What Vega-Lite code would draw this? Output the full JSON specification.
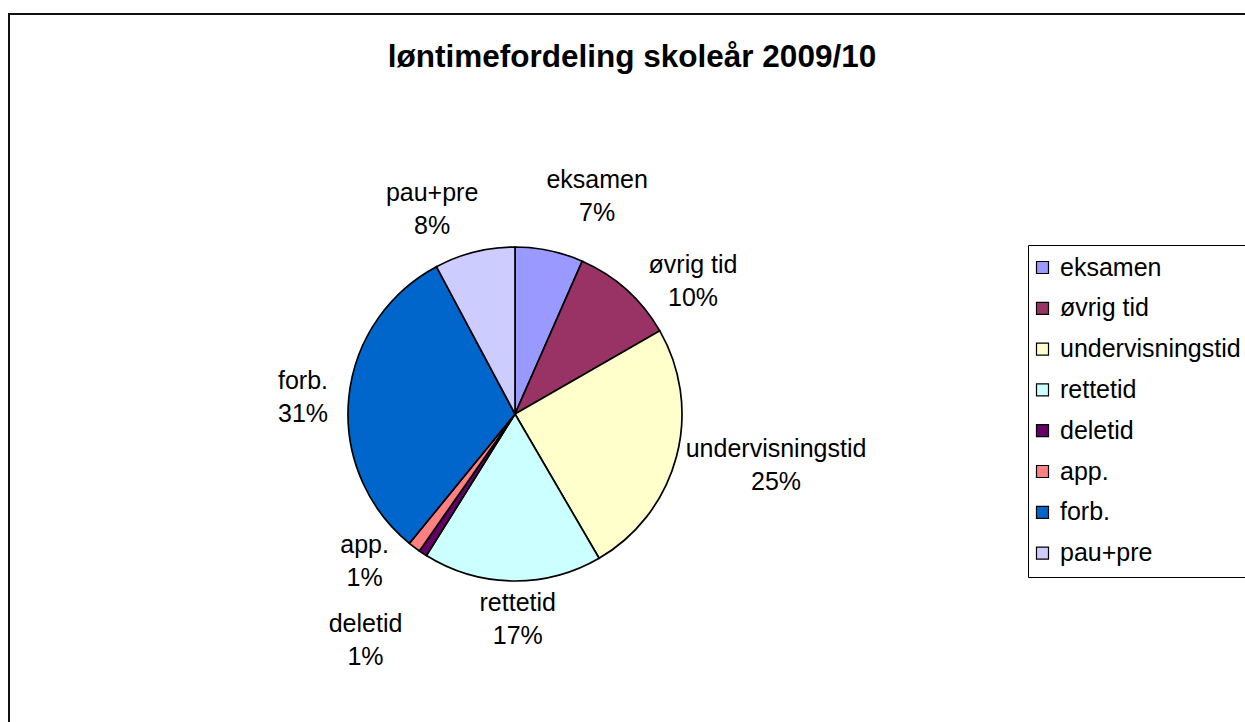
{
  "$schema": "https://vega.github.io/schema/vega-lite/v6.json",
  "autosize": {"type": "none"},
  "padding": {"left": 9, "top": 14, "right": -10, "bottom": -10},
  "width": 1246,
  "height": 718,
  "background": "white",
  "config": {"font": "Liberation Sans", "view": {"stroke": null}},
  "title": {"text": "løntimefordeling skoleår 2009/10", "fontSize": 31.5, "fontWeight": "bold", "color": "black", "anchor": "middle", "frame": "group", "baseline": "alphabetic", "offset": -85},
  "data": {"values": [
    {"k": 1, "cat": "eksamen", "value": 6.6, "label": ["eksamen", "7%"]},
    {"k": 2, "cat": "øvrig tid", "value": 10.1, "label": ["øvrig tid", "10%"]},
    {"k": 3, "cat": "undervisningstid", "value": 24.9, "label": ["undervisningstid", "25%"]},
    {"k": 4, "cat": "rettetid", "value": 17.3, "label": ["rettetid", "17%"]},
    {"k": 5, "cat": "deletid", "value": 0.8, "label": ["deletid", "1%"]},
    {"k": 6, "cat": "app.", "value": 1.2, "label": ["app.", "1%"]},
    {"k": 7, "cat": "forb.", "value": 31.3, "label": ["forb.", "31%"]},
    {"k": 8, "cat": "pau+pre", "value": 7.8, "label": ["pau+pre", "8%"]}
  ]},
  "layer": [
    {
      "data": {"values": [{"frame": "chart"}]},
      "mark": {"type": "rect", "fill": null, "stroke": "#111", "strokeWidth": 2},
      "encoding": {}
    },
    {
      "encoding": {
        "theta": {"field": "value", "type": "quantitative", "stack": true},
        "order": {"field": "k", "type": "quantitative"},
        "detail": {"field": "cat", "type": "nominal"}
      },
      "layer": [
        {
          "mark": {"type": "arc", "radius": 167, "x": 506, "y": 400, "stroke": "black", "strokeWidth": 1.7},
          "encoding": {
            "color": {
              "field": "cat", "type": "nominal",
              "scale": {
                "domain": ["eksamen", "øvrig tid", "undervisningstid", "rettetid", "deletid", "app.", "forb.", "pau+pre"],
                "range": ["#9999FF", "#993366", "#FFFFCC", "#CCFFFF", "#660066", "#FF8080", "#0066CC", "#CCCCFF"]
              },
              "legend": {
                "title": null, "orient": "none", "legendX": 1019, "legendY": 231,
                "labelFontSize": 25, "labelColor": "black", "labelFont": "Liberation Sans", "labelLimit": 400,
                "symbolType": "square", "symbolSize": 144, "symbolStrokeColor": "black", "symbolStrokeWidth": 1.2,
                "symbolOffset": -8, "labelOffset": 5, "rowPadding": 14.8, "padding": 10,
                "strokeColor": "black", "fillColor": "white"
              }
            }
          }
        },
        {
          "mark": {"type": "text", "x": 506, "y": 400, "radius": 229, "dx": 35, "dy": -9.5, "fontSize": 25, "baseline": "middle", "align": "center", "lineHeight": 33, "color": "black"},
          "encoding": {"text": {"field": "label", "type": "nominal", "condition": {"test": "datum.cat !== 'eksamen'", "value": ""}}}
        },
        {
          "mark": {"type": "text", "x": 506, "y": 400, "radius": 217, "dx": 33, "dy": 12.5, "fontSize": 25, "baseline": "middle", "align": "center", "lineHeight": 33, "color": "black"},
          "encoding": {"text": {"field": "label", "type": "nominal", "condition": {"test": "datum.cat !== 'øvrig tid'", "value": ""}}}
        },
        {
          "mark": {"type": "text", "x": 506, "y": 400, "radius": 265, "dx": 5, "dy": -33.5, "fontSize": 25, "baseline": "middle", "align": "center", "lineHeight": 33, "color": "black"},
          "encoding": {"text": {"field": "label", "type": "nominal", "condition": {"test": "datum.cat !== 'undervisningstid'", "value": ""}}}
        },
        {
          "mark": {"type": "text", "x": 506, "y": 400, "radius": 206, "dx": 6, "dy": -16.5, "fontSize": 25, "baseline": "middle", "align": "center", "lineHeight": 33, "color": "black"},
          "encoding": {"text": {"field": "label", "type": "nominal", "condition": {"test": "datum.cat !== 'rettetid'", "value": ""}}}
        },
        {
          "mark": {"type": "text", "x": 506, "y": 400, "radius": 271, "dx": 0, "dy": -16.5, "fontSize": 25, "baseline": "middle", "align": "center", "lineHeight": 33, "color": "black"},
          "encoding": {"text": {"field": "label", "type": "nominal", "condition": {"test": "datum.cat !== 'deletid'", "value": ""}}}
        },
        {
          "mark": {"type": "text", "x": 506, "y": 400, "radius": 208, "dx": -25, "dy": -34.5, "fontSize": 25, "baseline": "middle", "align": "center", "lineHeight": 33, "color": "black"},
          "encoding": {"text": {"field": "label", "type": "nominal", "condition": {"test": "datum.cat !== 'app.'", "value": ""}}}
        },
        {
          "mark": {"type": "text", "x": 506, "y": 400, "radius": 213, "dx": 0, "dy": -12.5, "fontSize": 25, "baseline": "middle", "align": "center", "lineHeight": 33, "color": "black"},
          "encoding": {"text": {"field": "label", "type": "nominal", "condition": {"test": "datum.cat !== 'forb.'", "value": ""}}}
        },
        {
          "mark": {"type": "text", "x": 506, "y": 400, "radius": 218, "dx": -30, "dy": -9.5, "fontSize": 25, "baseline": "middle", "align": "center", "lineHeight": 33, "color": "black"},
          "encoding": {"text": {"field": "label", "type": "nominal", "condition": {"test": "datum.cat !== 'pau+pre'", "value": ""}}}
        }
      ]
    }
  ]
}
